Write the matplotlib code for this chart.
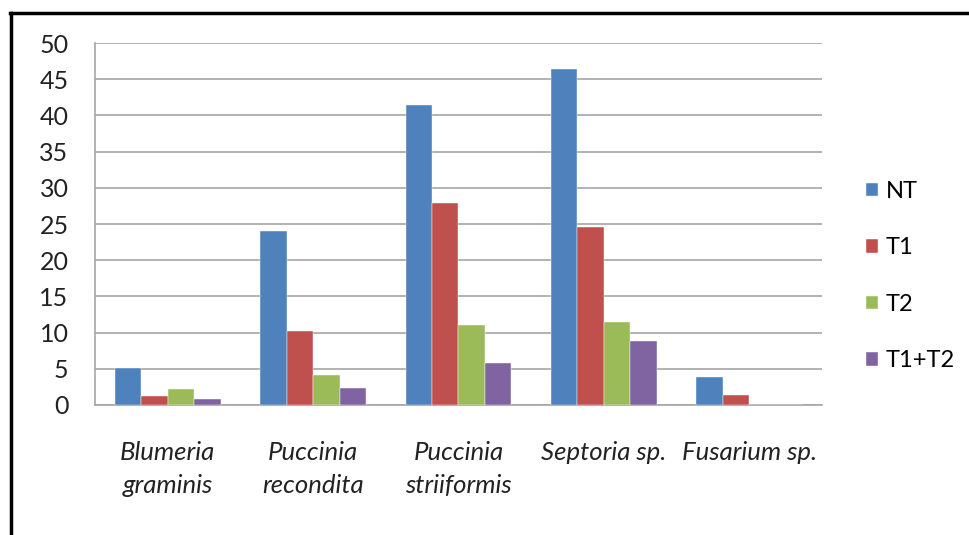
import numpy as np
import matplotlib.pyplot as plt
from matplotlib.lines import Line2D

categories = ["Blumeria\ngraminis", "Puccinia\nrecondita", "Puccinia\nstriiformis",
              "Septoria sp.", "Fusarium sp."]
series_names = ["NT", "T1", "T2", "T1+T2"]
nt = [5.1, 24.0, 41.4, 46.4, 3.9]
t1 = [1.2, 10.2, 27.9, 24.6, 1.4]
t2 = [2.2, 4.1, 11.0, 11.5, 0.0]
t1t2 = [0.8, 2.3, 5.8, 8.8, 0.0]
yticks = [0, 5, 10, 15, 20, 25, 30, 35, 40, 45, 50]

colors = ["#4F81BD", "#C0504D", "#9BBB59", "#8064A2"]

plt.rcParams['font.family'] = ['Lato', 'DejaVu Sans']

fig = plt.figure(figsize=(9.7, 5.35), dpi=100)
ax = fig.add_axes([0.0979, 0.243, 0.7495, 0.6766])

x = np.arange(len(categories))
w = 0.182
for i, (vals, name) in enumerate(zip([nt, t1, t2, t1t2], series_names)):
    ax.bar(x + (i - 1.5) * w, vals, width=w, color=colors[i], label=name,
           edgecolor="white", linewidth=0.3, zorder=3)

ax.set_xlim(-0.5, len(categories) - 0.5)
ax.set_ylim(0, 50)
ax.set_yticks(yticks)
ax.set_yticklabels([str(v) for v in yticks], fontsize=18, color="#222222")
ax.set_xticks(x)
ax.set_xticklabels(categories, fontsize=18.5, style="italic", color="#222222",
                   linespacing=1.5)
ax.tick_params(axis="x", length=0, pad=26)
ax.tick_params(axis="y", length=0, pad=19)
ax.grid(axis="y", color="#A6A6A6", linewidth=1.2, zorder=0)
for side in ["top", "right"]:
    ax.spines[side].set_visible(False)
for side in ["left", "bottom"]:
    ax.spines[side].set_color("#A6A6A6")
    ax.spines[side].set_linewidth(1.2)

ax.legend(loc="center left", bbox_to_anchor=(0.871, 0.484), bbox_transform=fig.transFigure,
          frameon=False, fontsize=17, handlelength=0.5, handleheight=0.5,
          handletextpad=0.34, labelspacing=1.5)

# frame lines at left and top of the picture
fig.add_artist(Line2D([0.0115, 0.0115], [0.0, 0.976], color="black", linewidth=2.5,
                      transform=fig.transFigure))
fig.add_artist(Line2D([0.0105, 1.0], [0.976, 0.976], color="black", linewidth=2.5,
                      transform=fig.transFigure))

fig.savefig("out.png", dpi=100)
